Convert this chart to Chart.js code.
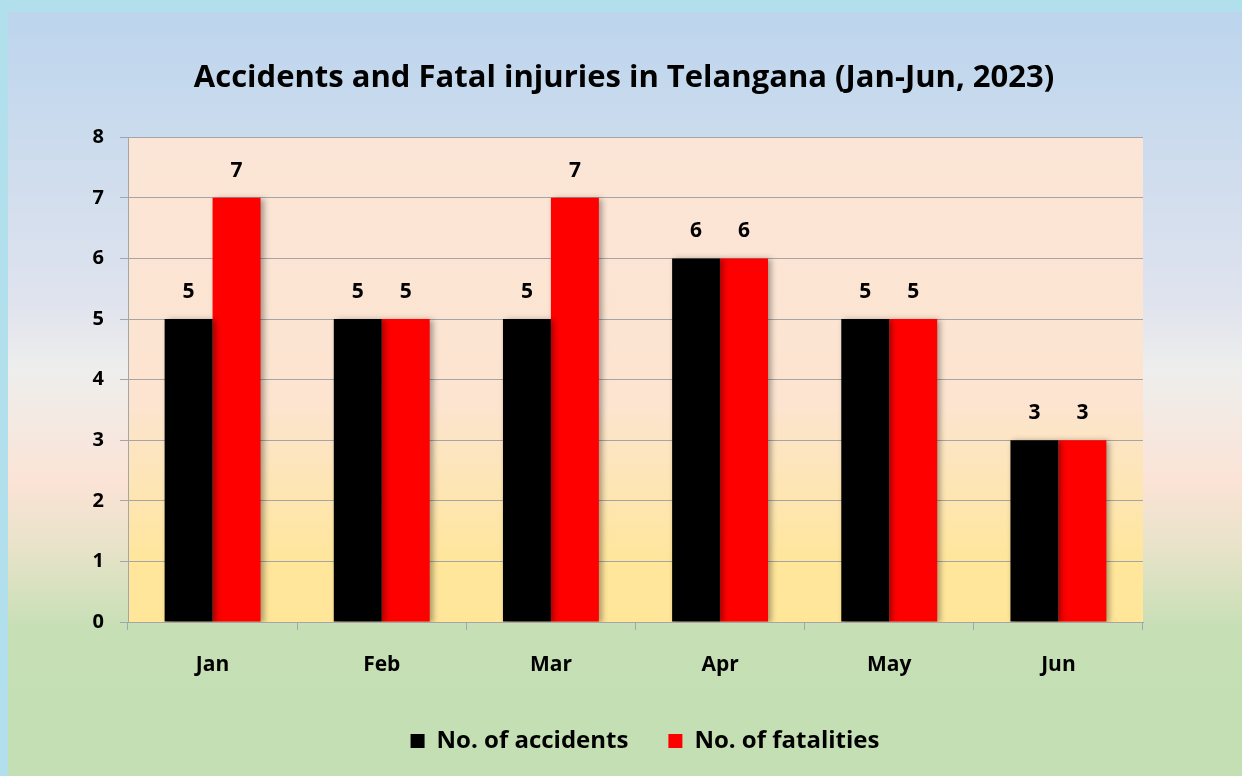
<!DOCTYPE html>
<html lang="en">
<head>
    <meta charset="UTF-8">
    <title>Accidents and Fatal injuries in Telangana</title>
    <script src="https://cdn.jsdelivr.net/npm/chart.js"></script>
    <style>
        html, body { margin: 0; padding: 0; background: #b1dfec; }
        #wrap { position: absolute; left: 0; top: 0; width: 1242px; height: 776px; }
    </style>
</head>
<body>
    <div id="wrap"><canvas id="accChart"></canvas></div>

    <script>
        // chart data
        const months = ['Jan', 'Feb', 'Mar', 'Apr', 'May', 'Jun'];
        const accidents = [5, 5, 5, 6, 5, 3];
        const fatalities = [7, 5, 7, 6, 5, 3];
        const yTicks = [0, 1, 2, 3, 4, 5, 6, 7, 8];

        const FONT = '"Open Sans", "Noto Sans", sans-serif';
        const GRID = '#a5a5a5';

        // page + plot area backgrounds
        const backgrounds = {
            id: 'backgrounds',
            beforeDraw(chart) {
                const ctx = chart.ctx;
                const a = chart.chartArea;
                ctx.save();
                ctx.fillStyle = '#b1dfec';
                ctx.fillRect(0, 0, chart.width, chart.height);
                const g = ctx.createLinearGradient(0, 12, 0, chart.height);
                g.addColorStop(0, '#bcd5ed');
                g.addColorStop(0.377, '#dfe3ee');
                g.addColorStop(0.47, '#eeeeec');
                g.addColorStop(0.616, '#fbe3d6');
                g.addColorStop(0.70, '#e8e3c9');
                g.addColorStop(0.81, '#c6dfb5');
                g.addColorStop(1, '#c4dfb3');
                ctx.fillStyle = g;
                ctx.fillRect(8, 12, chart.width - 8, chart.height - 12);

                const p = ctx.createLinearGradient(0, a.top, 0, a.bottom);
                p.addColorStop(0, '#fbe5d6');
                p.addColorStop(0.55, '#fce4d0');
                p.addColorStop(0.88, '#ffe69b');
                p.addColorStop(1, '#ffe699');
                ctx.fillStyle = p;
                ctx.fillRect(a.left, a.top, a.right - a.left, a.bottom - a.top);
                ctx.restore();
            }
        };

        // title and legend are not centred on the plot in the original
        const shiftBlocks = {
            id: 'shiftBlocks',
            afterLayout(chart) {
                const move = (box, centre) => {
                    if (!box) return;
                    const d = centre - (box.left + box.right) / 2;
                    box.left += d;
                    box.right += d;
                };
                move(chart.titleBlock, 624);
                move(chart.legend, 645);
            }
        };

        // soft shadow on the bars
        const barShadow = {
            id: 'barShadow',
            beforeDatasetDraw(chart) {
                const ctx = chart.ctx;
                ctx.save();
                ctx.shadowColor = 'rgba(0,0,0,0.35)';
                ctx.shadowBlur = 6;
                ctx.shadowOffsetX = 3;
                ctx.shadowOffsetY = 1;
            },
            afterDatasetDraw(chart) {
                chart.ctx.restore();
            }
        };

        // value labels above bars
        const valueLabels = {
            id: 'valueLabels',
            afterDatasetsDraw(chart) {
                const ctx = chart.ctx;
                ctx.save();
                ctx.fillStyle = '#000';
                ctx.font = 'bold 21px ' + FONT;
                ctx.textAlign = 'center';
                ctx.textBaseline = 'middle';
                chart.data.datasets.forEach((ds, i) => {
                    chart.getDatasetMeta(i).data.forEach((bar, j) => {
                        ctx.fillText(ds.data[j], bar.x, bar.y - 27);
                    });
                });
                ctx.restore();
            }
        };

        const ctx = document.getElementById('accChart').getContext('2d');
        const accChart = new Chart(ctx, {
            type: 'bar',
            data: {
                labels: months,
                datasets: [{
                    label: 'No. of accidents',
                    data: accidents,
                    backgroundColor: '#000000',
                    borderWidth: 0
                }, {
                    label: 'No. of fatalities',
                    data: fatalities,
                    backgroundColor: '#ff0000',
                    borderWidth: 0
                }]
            },
            options: {
                responsive: true,
                maintainAspectRatio: false,
                animation: false,
                layout: {
                    padding: { left: 0, right: 99, top: 0, bottom: 13 }
                },
                datasets: {
                    bar: { barPercentage: 1.0, categoryPercentage: 0.567 }
                },
                plugins: {
                    title: {
                        display: true,
                        text: 'Accidents and Fatal injuries in Telangana (Jan-Jun, 2023)',
                        color: '#000',
                        font: { family: FONT, size: 31, weight: 'bold', lineHeight: 1.2 },
                        padding: { top: 60, bottom: 40 },
                        align: 'center'
                    },
                    legend: {
                        position: 'bottom',
                        labels: {
                            color: '#000',
                            boxWidth: 14,
                            boxHeight: 14,
                            padding: 40,
                            font: { family: FONT, size: 24, weight: 'bold' }
                        }
                    },
                    tooltip: { enabled: false }
                },
                scales: {
                    x: {
                        grid: {
                            display: true,
                            drawOnChartArea: false,
                            color: GRID,
                            tickLength: 8,
                            offset: true
                        },
                        border: { color: GRID, width: 1 },
                        ticks: {
                            color: '#000',
                            padding: 22,
                            font: { family: FONT, size: 21, weight: 'bold' }
                        },
                        afterFit(scale) { scale.height = 67; }
                    },
                    y: {
                        min: 0,
                        max: 8,
                        afterBuildTicks(scale) {
                            scale.ticks = yTicks.map(v => ({ value: v }));
                        },
                        grid: {
                            color: GRID,
                            tickLength: 8
                        },
                        border: { color: GRID, width: 1 },
                        ticks: {
                            color: '#000',
                            padding: 16,
                            font: { family: FONT, size: 20, weight: 'bold' }
                        },
                        afterFit(scale) { scale.width = 128; }
                    }
                }
            },
            plugins: [backgrounds, shiftBlocks, barShadow, valueLabels]
        });
    </script>
</body>
</html>
